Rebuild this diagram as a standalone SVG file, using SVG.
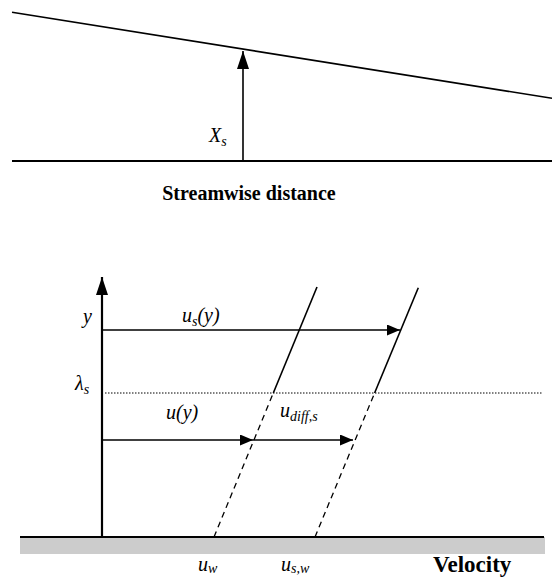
<svg xmlns="http://www.w3.org/2000/svg" width="552" height="577" viewBox="0 0 552 577">
<defs>
<style>
.ln{stroke:#000;fill:none;stroke-width:1.6}
.ax{stroke:#000;fill:none;stroke-width:2.2}
.dash{stroke:#000;fill:none;stroke-width:1.3;stroke-dasharray:6 4.5}
.dot{stroke:#000;fill:none;stroke-width:1;stroke-dasharray:1.5 1.5}
text{font-family:"Liberation Serif","Times New Roman",serif;fill:#000}
.it{font-style:italic;font-size:20px}
.sub{font-size:14px}
.bd{font-weight:bold;font-size:20px}
</style>
<marker id="ah" markerUnits="userSpaceOnUse" markerWidth="14" markerHeight="12" refX="13" refY="5.5" orient="auto">
<path d="M0,0 L13,5.5 L0,11 Z" fill="#000"/>
</marker>
<marker id="ahBig" markerUnits="userSpaceOnUse" markerWidth="20" markerHeight="14" refX="18" refY="6" orient="auto">
<path d="M0,0 L18,6 L0,12 Z" fill="#000"/>
</marker>
</defs>

<g id="top-panel">
<line class="ln" x1="12" y1="12.3" x2="552" y2="98.3"/>
<line class="ax" x1="12" y1="161" x2="552" y2="161"/>
<line class="ln" x1="243" y1="161" x2="243" y2="51" marker-end="url(#ahBig)"/>
<text class="it" x="209" y="142">X<tspan class="sub" dy="4">s</tspan></text>
<text class="bd" x="249" y="200" text-anchor="middle">Streamwise distance</text>
</g>

<g id="wall">
<rect x="20" y="537" width="525" height="17" fill="#cccccc"/>
<line class="ax" x1="20" y1="537" x2="544" y2="537"/>
</g>

<g id="y-axis">
<line class="ax" x1="102" y1="537" x2="102" y2="277" marker-end="url(#ahBig)"/>
<text class="it" x="83" y="323">y</text>
<text class="it" x="75" y="390">λ<tspan class="sub" dy="4">s</tspan></text>
</g>

<g id="lambda-line">
<line class="dot" x1="105" y1="393" x2="543" y2="393"/>
</g>

<g id="profile-u">
<line class="ln" x1="273.3" y1="393" x2="317" y2="287"/>
<line class="dash" x1="214" y1="537" x2="273.3" y2="393"/>
</g>

<g id="profile-us">
<line class="ln" x1="374.6" y1="393" x2="418.3" y2="287.7"/>
<line class="dash" x1="315" y1="537" x2="374.6" y2="393"/>
</g>

<g id="connectors">
<line class="ln" x1="102" y1="330" x2="400" y2="330" marker-end="url(#ah)"/>
<line class="ln" x1="102" y1="440" x2="253" y2="440" marker-end="url(#ah)"/>
<line class="ln" x1="253" y1="440" x2="353" y2="440" marker-end="url(#ah)"/>
</g>

<g id="labels">
<text class="it" x="182" y="322">u<tspan class="sub" dy="4">s</tspan><tspan dy="-4">(y)</tspan></text>
<text class="it" x="166" y="419">u(y)</text>
<text class="it" x="280" y="417">u<tspan class="sub" dy="4">diff,s</tspan></text>
<text class="it" x="198" y="571">u<tspan class="sub" dy="2">w</tspan></text>
<text class="it" x="281" y="571">u<tspan class="sub" dy="2">s,w</tspan></text>
<text class="bd" x="433" y="572" style="font-size:23px">Velocity</text>
</g>
</svg>
